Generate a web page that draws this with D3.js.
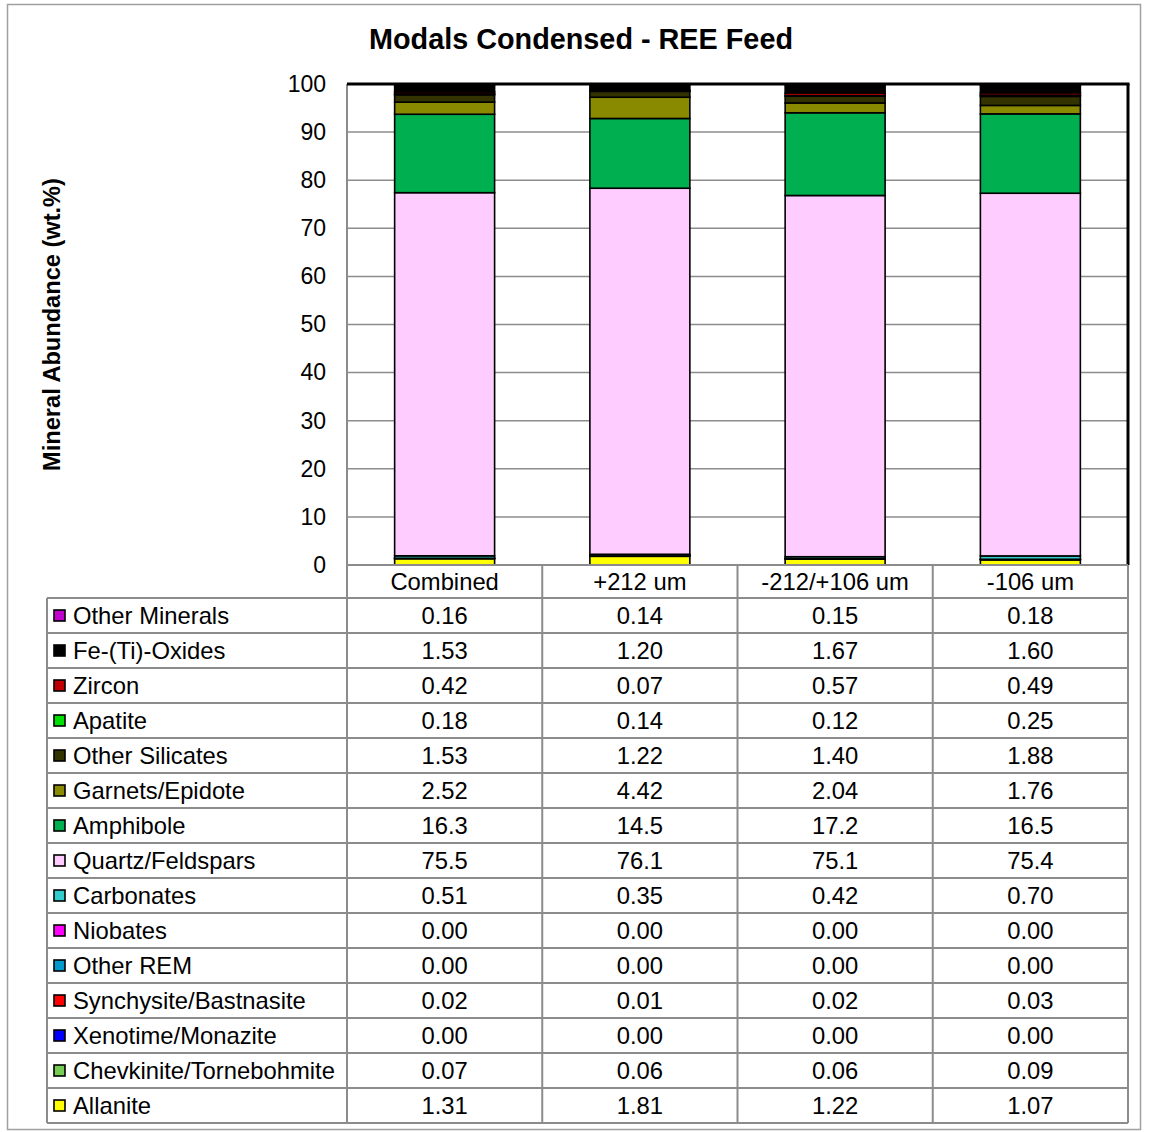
<!DOCTYPE html>
<html>
<head>
<meta charset="utf-8">
<script src="https://cdn.jsdelivr.net/npm/d3@7"></script>
<style>
  html, body { margin: 0; padding: 0; background: #fff; }
  svg { display: block; font-family: Arial, "Liberation Sans", sans-serif; }
</style>
</head>
<body>
<svg id="chart" width="1151" height="1132"></svg>
<script>
// ---------- DATA ----------
const chartTitle = "Modals Condensed - REE Feed";
const yAxisTitle = "Mineral Abundance (wt.%)";
const categories = ["Combined", "+212 um", "-212/+106 um", "-106 um"];
// Minerals in legend/table order (top to bottom)
const minerals = [
  "Other Minerals", "Fe-(Ti)-Oxides", "Zircon", "Apatite", "Other Silicates",
  "Garnets/Epidote", "Amphibole", "Quartz/Feldspars", "Carbonates", "Niobates",
  "Other REM", "Synchysite/Bastnasite", "Xenotime/Monazite",
  "Chevkinite/Tornebohmite", "Allanite"
];
const mineralColors = [
  "#C000CC", "#000000", "#C00000", "#00E000", "#333300",
  "#8A8A00", "#00B050", "#FFCCFF", "#33CCCC", "#FF00FF",
  "#0099CC", "#FF0000", "#0000FF", "#77CC55", "#FFFF00"
];
// Values per category, in the same order as minerals
const combinedValues = [0.16, 1.53, 0.42, 0.18, 1.53, 2.52, 16.3, 75.5, 0.51, 0.00, 0.00, 0.02, 0.00, 0.07, 1.31];
const plus212Values  = [0.14, 1.20, 0.07, 0.14, 1.22, 4.42, 14.5, 76.1, 0.35, 0.00, 0.00, 0.01, 0.00, 0.06, 1.81];
const mid212Values   = [0.15, 1.67, 0.57, 0.12, 1.40, 2.04, 17.2, 75.1, 0.42, 0.00, 0.00, 0.02, 0.00, 0.06, 1.22];
const minus106Values = [0.18, 1.60, 0.49, 0.25, 1.88, 1.76, 16.5, 75.4, 0.70, 0.00, 0.00, 0.03, 0.00, 0.09, 1.07];
const seriesByCategory = [combinedValues, plus212Values, mid212Values, minus106Values];
const yTicks = [0, 10, 20, 30, 40, 50, 60, 70, 80, 90, 100];

// ---------- LAYOUT ----------
const svg = d3.select("#chart");
const plotL = 347, plotR = 1128, plotT = 84, plotB = 565;
const tableL = 47, rowH = 35, headerH = 33;
const gridColor = "#8c8c8c";
const tableFont = 23.8;

// outer frame
svg.append("rect").attr("x", 7.5).attr("y", 4.5).attr("width", 1133).attr("height", 1125)
  .attr("fill", "#fff").attr("stroke", "#a0a0a0").attr("stroke-width", 1.5);

const x = d3.scaleBand().domain(categories).range([plotL, plotR]).paddingInner(0).paddingOuter(0);
const y = d3.scaleLinear().domain([0, 100]).range([plotB, plotT]);

// gridlines
svg.append("g").selectAll("line").data(yTicks.filter(t => t > 0)).join("line")
  .attr("x1", plotL).attr("x2", plotR)
  .attr("y1", d => y(d)).attr("y2", d => y(d))
  .attr("stroke", gridColor).attr("stroke-width", 1.5);

// stacked data (bottom-to-top = reverse of legend order)
const rows = categories.map((c, ci) => {
  const o = { category: c };
  minerals.forEach((m, mi) => { o[m] = seriesByCategory[ci][mi]; });
  return o;
});
const stackKeys = minerals.slice().reverse();
const stacked = d3.stack().keys(stackKeys)(rows);
const colorOf = d3.scaleOrdinal().domain(minerals).range(mineralColors);

const barW = x.bandwidth() * 0.512;
const barOffset = (x.bandwidth() - barW) / 2;
const clampY = v => y(Math.min(v, 100));

const gBars = svg.append("g");
stacked.forEach(layer => {
  gBars.append("g").selectAll("rect").data(layer).join("rect")
    .attr("x", d => x(d.data.category) + barOffset)
    .attr("width", barW)
    .attr("y", d => clampY(d[1]))
    .attr("height", d => Math.max(0, clampY(d[0]) - clampY(d[1])))
    .attr("fill", colorOf(layer.key))
    .attr("stroke", "#000").attr("stroke-width", 1.6);
});

// plot borders: left grey axis, top and right black
svg.append("line").attr("x1", plotL).attr("x2", plotL).attr("y1", plotT).attr("y2", plotB)
  .attr("stroke", gridColor).attr("stroke-width", 2);
svg.append("line").attr("x1", plotL).attr("x2", plotR + 1.5).attr("y1", plotT).attr("y2", plotT)
  .attr("stroke", "#000").attr("stroke-width", 3);
svg.append("line").attr("x1", plotR).attr("x2", plotR).attr("y1", plotT).attr("y2", plotB)
  .attr("stroke", "#000").attr("stroke-width", 3);

// y axis labels via d3 axis
const yAxis = d3.axisLeft(y).tickValues(yTicks).tickSize(0).tickPadding(21);
const gy = svg.append("g").attr("transform", `translate(${plotL},0)`).call(yAxis);
gy.select(".domain").remove();
gy.selectAll("text").attr("font-size", 23).attr("fill", "#000")
  .attr("font-family", "Arial, 'Liberation Sans', sans-serif");

// titles
svg.append("text").attr("x", 581).attr("y", 49).attr("text-anchor", "middle")
  .attr("font-size", 28.8).attr("font-weight", "bold").text(chartTitle);
svg.append("text").attr("transform", `translate(60,${(plotT + plotB) / 2}) rotate(-90)`)
  .attr("text-anchor", "middle").attr("font-size", 23.6).attr("font-weight", "bold").text(yAxisTitle);

// ---------- DATA TABLE ----------
const tableTop = plotB;
const bodyTop = tableTop + headerH;
const tableBottom = bodyTop + rowH * minerals.length;
const gT = svg.append("g");
const fmt = v => v >= 10 ? v.toFixed(1) : v.toFixed(2);

// header cells
gT.selectAll("text.hdr").data(categories).join("text")
  .attr("class", "hdr")
  .attr("x", d => x(d) + x.bandwidth() / 2)
  .attr("y", tableTop + headerH / 2)
  .attr("dy", "0.35em").attr("text-anchor", "middle").attr("font-size", tableFont)
  .text(d => d);

// horizontal lines
const hLines = [{ y: tableTop, x1: plotL }, ...d3.range(minerals.length + 1).map(i => ({ y: bodyTop + i * rowH, x1: tableL }))];
gT.selectAll("line.h").data(hLines).join("line")
  .attr("x1", d => d.x1).attr("x2", plotR)
  .attr("y1", d => d.y).attr("y2", d => d.y)
  .attr("stroke", gridColor).attr("stroke-width", 2);

// vertical lines
const vLines = [
  { x: tableL, y1: bodyTop },
  ...categories.map(c => ({ x: x(c), y1: tableTop })),
  { x: plotR, y1: tableTop }
];
gT.selectAll("line.v").data(vLines).join("line")
  .attr("x1", d => d.x).attr("x2", d => d.x)
  .attr("y1", d => d.y1).attr("y2", tableBottom)
  .attr("stroke", gridColor).attr("stroke-width", 2);

// row labels with swatches
minerals.forEach((m, i) => {
  const cy = bodyTop + i * rowH + rowH / 2;
  gT.append("rect").attr("x", 54).attr("y", cy - 5.5).attr("width", 11).attr("height", 11)
    .attr("fill", mineralColors[i]).attr("stroke", "#000").attr("stroke-width", 1.6);
  gT.append("text").attr("x", 73).attr("y", cy).attr("dy", "0.35em")
    .attr("font-size", tableFont).text(m);
  categories.forEach((c, ci) => {
    gT.append("text").attr("x", x(c) + x.bandwidth() / 2).attr("y", cy).attr("dy", "0.35em")
      .attr("text-anchor", "middle").attr("font-size", tableFont)
      .text(fmt(seriesByCategory[ci][i]));
  });
});
</script>
</body>
</html>
